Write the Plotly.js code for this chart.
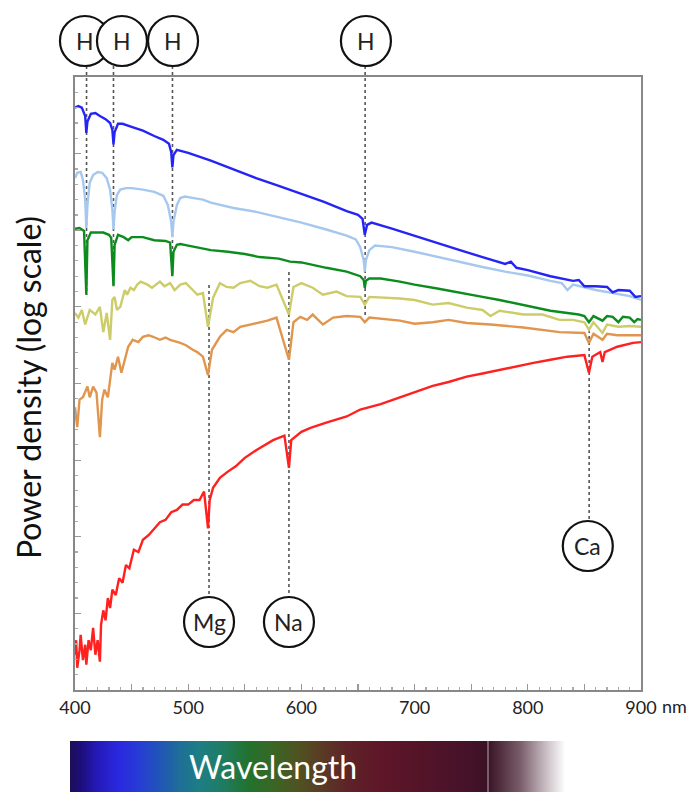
<!DOCTYPE html>
<html>
<head>
<meta charset="utf-8">
<script src="https://cdn.plot.ly/plotly-3.0.1.min.js"></script>
<style>html,body{margin:0;padding:0;background:#fff;}#chart{width:695px;height:799px;}</style>
</head>
<body>
<div id="chart"></div>
<script>
// Data: wavelength (nm) and log10 of power density (arbitrary units)
var blueWl = [400,403,406,409,410,411,414,418,422,427,431,433,434,435,438,442,450,460,470,478,483,485,486,487,490,500,520,540,560,580,600,620,640,650,654,656,658,662,680,700,720,740,760,780,785,790,800,820,840,845,850,860,870,875,880,890,895,900];
var blueLog = [7.60,7.62,7.60,7.49,7.27,7.42,7.52,7.53,7.49,7.45,7.40,7.31,7.12,7.28,7.39,7.39,7.35,7.30,7.23,7.18,7.13,7.02,6.82,6.98,7.05,7.01,6.91,6.79,6.68,6.58,6.48,6.37,6.25,6.20,6.15,5.94,6.07,6.10,6.02,5.93,5.84,5.74,5.65,5.56,5.59,5.51,5.48,5.40,5.34,5.35,5.27,5.27,5.26,5.19,5.22,5.21,5.13,5.14];

var lightWl = [400,402,405,407,409,410,411,413,416,420,424,428,431,433,434,435,437,440,445,450,460,470,478,482,485,486,487,490,493,497,505,513,520,540,560,578,600,622,640,648,652,655,656,657,660,665,680,700,720,740,760,780,800,820,830,835,840,860,880,890,900];
var lightLog = [6.68,6.75,6.76,6.66,6.40,6.03,6.33,6.62,6.72,6.76,6.75,6.68,6.53,6.27,6.01,6.24,6.46,6.53,6.55,6.55,6.53,6.50,6.45,6.33,6.11,5.91,6.11,6.33,6.42,6.44,6.42,6.40,6.36,6.29,6.24,6.18,6.10,6.01,5.93,5.88,5.78,5.61,5.46,5.61,5.74,5.80,5.78,5.72,5.65,5.59,5.52,5.46,5.41,5.34,5.31,5.22,5.29,5.22,5.17,5.14,5.09];

var greenWl = [400,404,408,410,411,414,420,425,430,432,434,435,438,443,447,450,460,470,480,484,486,487,490,493,500,510,520,535,550,563,580,590,600,622,640,652,655,656,657,660,670,687,700,720,740,760,775,790,805,820,835,845,850,854,858,866,870,875,880,884,890,894,897,900];
var greenLog = [6.02,6.03,5.99,5.16,5.87,5.97,5.97,5.97,5.94,5.90,5.27,5.81,5.94,5.91,5.87,5.91,5.91,5.87,5.86,5.84,5.40,5.72,5.81,5.82,5.80,5.77,5.74,5.72,5.69,5.65,5.63,5.59,5.58,5.51,5.46,5.40,5.35,5.25,5.34,5.37,5.37,5.33,5.29,5.24,5.18,5.13,5.09,5.04,4.99,4.95,4.92,4.90,4.88,4.80,4.88,4.82,4.88,4.87,4.80,4.87,4.86,4.80,4.84,4.83];

var yellowWl = [400,403,406,409,413,418,422,425,428,431,433,435,437,440,444,446,449,452,455,458,464,468,475,479,484,488,493,498,504,508,513,517.5,522,528,534,540,546,555,563,570,578,589,593,600,610,619,631,640,652,656,660,687,700,716,730,746,760,767,775,796,813,828,840,850,854,858,866,870,880,890,900];
var yellowLog = [4.92,4.86,4.96,4.77,4.96,4.90,5.00,4.67,4.92,4.57,5.09,5.13,4.96,5.00,5.22,5.16,5.25,5.22,5.29,5.33,5.29,5.25,5.33,5.27,5.31,5.22,5.29,5.31,5.22,5.16,5.18,4.74,5.12,5.31,5.26,5.25,5.31,5.34,5.27,5.25,5.29,4.90,5.26,5.31,5.25,5.16,5.20,5.14,5.13,5.03,5.13,5.11,5.09,5.03,5.05,4.99,4.96,4.88,4.95,4.90,4.90,4.83,4.83,4.80,4.70,4.80,4.66,4.77,4.74,4.75,4.74];

var orangeWl = [400,402,404,407,411,413,416,419,422,424,426,429,433,435,438,441,444,447,451,456,460,465,469,475,480,484,493,498,504,508,513,517.5,521,528,534,540,546,555,563,570,578,589,593,599,605,610,619,628,640,652,656,660,687,700,716,730,746,767,796,828,850,854,858,866,870,879,900];
var orangeLog = [3.69,3.43,3.79,3.82,3.96,3.82,3.96,3.88,3.30,3.79,3.92,3.82,4.27,4.18,4.35,4.14,4.31,4.48,4.57,4.54,4.61,4.63,4.61,4.57,4.60,4.57,4.53,4.50,4.44,4.41,4.35,4.11,4.44,4.61,4.70,4.67,4.74,4.77,4.79,4.82,4.86,4.31,4.80,4.87,4.83,4.90,4.77,4.86,4.88,4.87,4.80,4.86,4.82,4.78,4.80,4.83,4.79,4.77,4.73,4.67,4.66,4.53,4.65,4.57,4.65,4.63,4.63];

var redWl = [400,401,402,404,405,407,409,410,412,414,416,418,420,422,423,425,427,429,431,433,436,439,442,445,448,452,456,460,465,470,475,480,485,490,495,500,505,510,514,517.5,519,522,528,535,542,550,560,575,585,589,591,600,608,622,640,652,670,687,700,716,730,746,760,775,790,805,820,835,850,854,857,864,866,868,879,893,900];
var redLog = [0.46,0.65,0.29,0.52,0.72,0.39,0.59,0.33,0.65,0.52,0.81,0.46,0.65,0.37,0.85,1.04,0.91,1.20,1.07,1.31,1.24,1.46,1.40,1.63,1.59,1.83,1.80,1.96,2.02,2.11,2.19,2.22,2.32,2.35,2.42,2.42,2.48,2.48,2.59,2.11,2.48,2.64,2.77,2.85,2.92,3.03,3.13,3.26,3.32,2.90,3.26,3.37,3.42,3.49,3.57,3.66,3.73,3.82,3.89,3.97,4.02,4.09,4.13,4.18,4.23,4.27,4.31,4.35,4.37,4.14,4.35,4.41,4.28,4.41,4.48,4.53,4.54];

var xTickVals = [400,450,500,550,600,650,700,750,800,850,900];
var xTickText = ['400','','500','','600','','700','','800','','900'];

// Spectral lines: label, wavelength of the line, wavelength of the label circle
var lineLabels = ['H','H','H','H','Mg','Na','Ca'];
var lineWl = [410.2,434.0,486.1,656.3,518.4,589.0,854.2];
var circleWl = [408.8,441.5,486.6,657.0,518.4,589.0,853.0];

// Wavelength bar colours
var barStops = [0,0.02,0.05,0.097,0.131,0.18,0.22,0.26,0.31,0.36,0.41,0.46,0.505,0.555,0.626,0.707,0.808,0.844,0.846,0.909,0.96,1];
var barColors = ['#1e0e5a','#1c0e78','#2418b4','#2a28e0','#2838d8','#2055b8','#1f6e98','#1d7e84','#1f7c60','#22722e','#3a6624','#4f5222','#5a3c24','#5e2428','#5e1628','#541428','#44122a','#3a1224','#3c1628','#7a5e6a','#c8bcc2','#ffffff'];

function pow10(a){ return a.map(function(v){ return Math.pow(10, v); }); }

var W = 695, H = 799;
var xDom = [75/W, 641/W];
var xRange = [400, 900];
function pxX(wl){ return xDom[0] + (wl - xRange[0])/(xRange[1]-xRange[0])*(xDom[1]-xDom[0]); }
function py(px){ return (H - px)/H; }

var lw = 2.4;
var traces = [
  {x: redWl, y: pow10(redLog), mode:'lines', line:{color:'#ff2020', width:lw}},
  {x: orangeWl, y: pow10(orangeLog), mode:'lines', line:{color:'#e0964e', width:lw}},
  {x: yellowWl, y: pow10(yellowLog), mode:'lines', line:{color:'#cccc6a', width:lw}},
  {x: greenWl, y: pow10(greenLog), mode:'lines', line:{color:'#0d8c1e', width:lw}},
  {x: lightWl, y: pow10(lightLog), mode:'lines', line:{color:'#a6c8ee', width:lw}},
  {x: blueWl, y: pow10(blueLog), mode:'lines', line:{color:'#2424f4', width:lw}},
  {x: barStops, y:[0.5], z:[barStops], type:'heatmap', xaxis:'x2', yaxis:'y2',
   colorscale: barStops.map(function(p,i){ return [p, barColors[i]]; }),
   zmin:0, zmax:1, zsmooth:'best', showscale:false, hoverinfo:'skip'}
];

// dotted guide lines (pixel rows of their ends) and circle rows
var guideTop = [66,66,66,66,285,272,330];
var guideBot = [295,286,276,315,597,597,521];
var circleY = [41,41,41,41,622,622,546];

var shapes = [];
var annotations = [];
for (var i=0;i<lineWl.length;i++){
  shapes.push({type:'line', xref:'paper', yref:'paper', x0:pxX(lineWl[i]), x1:pxX(lineWl[i]),
    y0:py(guideTop[i]), y1:py(guideBot[i]), layer:'below',
    line:{color:'#555', width:1.6, dash:'dot'}});
}
for (var j=0;j<lineWl.length;j++){
  shapes.push({type:'circle', xref:'paper', yref:'paper', xsizemode:'pixel', ysizemode:'pixel',
    xanchor:pxX(circleWl[j]), yanchor:py(circleY[j]), x0:-25, x1:25, y0:-25, y1:25,
    fillcolor:'#ffffff', line:{color:'#111', width:2.2}, layer:'above'});
  annotations.push({xref:'paper', yref:'paper', x:pxX(circleWl[j]), y:py(circleY[j]), text:lineLabels[j],
    showarrow:false, xanchor:'center', yanchor:'middle',
    font:{family:'Lato, sans-serif', size:23, color:'#222'}});
}
shapes.push({type:'line', xref:'paper', yref:'paper', x0:488/W, x1:488/W, y0:py(741), y1:py(792),
  line:{color:'rgba(220,210,215,0.8)', width:1}, layer:'above'});

annotations.push({xref:'paper', yref:'paper', x:28/W, y:py(388), text:'Power density (log scale)',
  textangle:-90, showarrow:false, xanchor:'center', yanchor:'middle',
  font:{family:'Lato, sans-serif', size:32, color:'#111'}});
annotations.push({xref:'paper', yref:'paper', x:660/W, y:py(706), text:'nm',
  showarrow:false, xanchor:'left', yanchor:'middle',
  font:{family:'Lato, sans-serif', size:18, color:'#222'}});
annotations.push({xref:'paper', yref:'paper', x:273/W, y:py(766), text:'Wavelength',
  showarrow:false, xanchor:'center', yanchor:'middle',
  font:{family:'Lato, sans-serif', size:32, color:'#ffffff'}});

var layout = {
  width:W, height:H,
  margin:{l:0, r:0, t:0, b:0},
  paper_bgcolor:'#ffffff', plot_bgcolor:'#ffffff',
  showlegend:false,
  xaxis:{domain:xDom, range:xRange, tickmode:'array', tickvals:xTickVals, ticktext:xTickText,
    ticks:'inside', ticklen:6, tickwidth:1.2, tickcolor:'#999',
    minor:{dtick:10, ticklen:3, tickcolor:'#aaa', ticks:'inside', showgrid:false},
    showline:true, linecolor:'#888', linewidth:2, mirror:true, showgrid:false, zeroline:false,
    tickfont:{family:'Lato, sans-serif', size:18, color:'#222'}, automargin:false},
  yaxis:{domain:[py(690), py(77)], type:'log', range:[0,8], dtick:1, ticks:'inside', ticklen:6, tickwidth:1.2, tickcolor:'#999',
    minor:{dtick:0.2, ticklen:3, tickcolor:'#aaa', ticks:'inside', showgrid:false},
    showticklabels:false, showline:true, linecolor:'#888', linewidth:2, mirror:true, showgrid:false, zeroline:false, automargin:false},
  xaxis2:{domain:[70/W, 565/W], range:[0,1], anchor:'y2', visible:false, fixedrange:true},
  yaxis2:{domain:[py(792), py(741)], range:[0,1], anchor:'x2', visible:false, fixedrange:true},
  shapes:shapes,
  annotations:annotations
};

Plotly.newPlot('chart', traces, layout, {staticPlot:true, displayModeBar:false});
</script>
</body>
</html>
